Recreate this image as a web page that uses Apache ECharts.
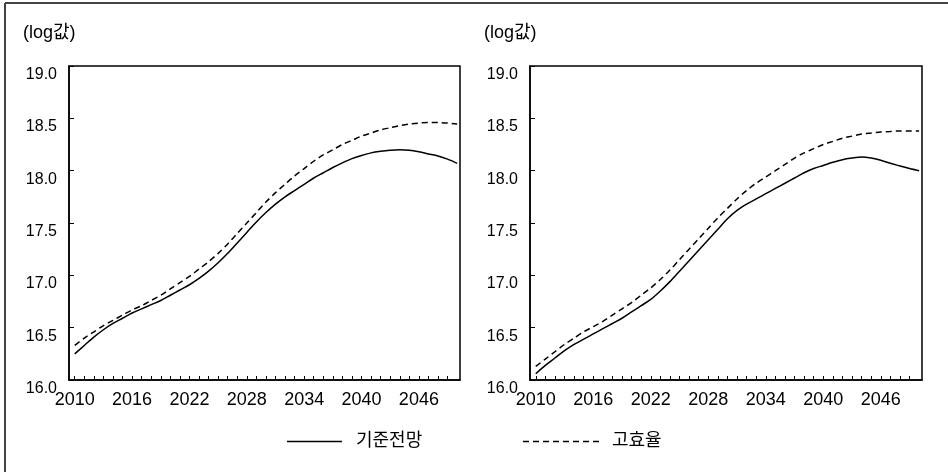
<!DOCTYPE html>
<html>
<head>
<meta charset="utf-8">
<script src="https://cdn.jsdelivr.net/npm/echarts@6/dist/echarts.min.js"></script>
<style>
html,body{margin:0;padding:0;background:#fff;}
#chart{width:948px;height:472px;}
</style>
</head>
<body>
<div id="chart"></div>
<script>
const years = [];
for (let y = 2010; y <= 2050; y++) years.push(y);
const xLabelYears = [2010, 2016, 2022, 2028, 2034, 2040, 2046];
const yTicks = [16.0, 16.5, 17.0, 17.5, 18.0, 18.5, 19.0];
const unitLabel = '(log값)';
const seriesNames = ['기준전망', '고효율'];

const leftBase = [16.25,16.33,16.41,16.48,16.54,16.59,16.64,16.68,16.72,16.76,
  16.81,16.86,16.91,16.97,17.04,17.12,17.21,17.31,17.41,17.51,
  17.60,17.68,17.75,17.81,17.87,17.93,17.98,18.03,18.075,18.115,
  18.145,18.17,18.185,18.195,18.20,18.195,18.18,18.16,18.14,18.11,18.07];
const leftHigh = [16.33,16.40,16.46,16.52,16.57,16.62,16.67,16.71,16.76,16.81,
  16.87,16.93,16.99,17.06,17.13,17.21,17.30,17.40,17.50,17.60,
  17.70,17.79,17.87,17.95,18.02,18.09,18.15,18.20,18.25,18.29,
  18.33,18.36,18.39,18.41,18.43,18.445,18.455,18.46,18.46,18.455,18.445];
const rightBase = [16.06,16.14,16.21,16.28,16.34,16.39,16.44,16.49,16.54,16.59,
  16.65,16.71,16.77,16.85,16.94,17.04,17.14,17.24,17.34,17.44,
  17.54,17.62,17.68,17.73,17.78,17.83,17.88,17.93,17.98,18.02,
  18.05,18.08,18.105,18.12,18.13,18.12,18.10,18.07,18.045,18.02,18.00];
const rightHigh = [16.13,16.20,16.27,16.34,16.40,16.46,16.51,16.56,16.62,16.68,
  16.74,16.81,16.88,16.96,17.05,17.15,17.25,17.35,17.45,17.55,
  17.64,17.73,17.81,17.88,17.94,18.00,18.06,18.12,18.17,18.21,
  18.25,18.28,18.31,18.33,18.35,18.36,18.37,18.375,18.38,18.38,18.38];

const FONT = "'Liberation Sans', Arial, 'Noto Sans CJK KR', sans-serif";
const KFONT = "'Noto Sans CJK KR', sans-serif";
const tickYears = [];
for (let y = 2010; y <= 2049; y++) tickYears.push(y);

function pairs(vals) { return years.map((y, i) => [y, vals[i]]); }

function xAxis(gi) {
  return {
    type: 'value', gridIndex: gi, min: 2009.4, max: 2050.3,
    axisLine: { show: true, lineStyle: { color: '#000', width: 1.5 } },
    splitLine: { show: false },
    axisTick: { show: true, inside: true, length: 4, customValues: tickYears, lineStyle: { color: '#000', width: 1 } },
    axisLabel: { show: true, customValues: xLabelYears, margin: 11, fontSize: 18, fontFamily: FONT, color: '#000', formatter: v => String(v) }
  };
}
function yAxis(gi) {
  return {
    type: 'value', gridIndex: gi, min: 16, max: 19, interval: 0.5,
    axisLine: { show: true, lineStyle: { color: '#000', width: 1.5 } },
    splitLine: { show: false },
    axisTick: { show: true, inside: true, length: 5, lineStyle: { color: '#000', width: 1 } },
    axisLabel: { show: true, customValues: yTicks, margin: 12, fontSize: 16, fontFamily: FONT, color: '#000', verticalAlign: 'top', lineHeight: 17, formatter: v => v.toFixed(1) }
  };
}
function line(name, gi, vals, dashed) {
  return {
    name: name, type: 'line', xAxisIndex: gi, yAxisIndex: gi, data: pairs(vals),
    showSymbol: false, symbol: 'none', smooth: 0.3,
    lineStyle: { color: '#000', width: 1.5, type: dashed ? [6, 4] : 'solid' },
    silent: true, animation: false
  };
}

const chart = echarts.init(document.getElementById('chart'), null, { renderer: 'canvas' });
chart.setOption({
  animation: false,
  backgroundColor: '#fff',
  grid: [
    { left: 69, top: 66, width: 391, height: 314, show: true, borderColor: '#000', borderWidth: 1.5, backgroundColor: 'transparent' },
    { left: 530, top: 66, width: 392, height: 314, show: true, borderColor: '#000', borderWidth: 1.5, backgroundColor: 'transparent' }
  ],
  xAxis: [xAxis(0), xAxis(1)],
  yAxis: [yAxis(0), yAxis(1)],
  series: [
    line(seriesNames[0], 0, leftBase, false),
    line(seriesNames[1], 0, leftHigh, true),
    line(seriesNames[0], 1, rightBase, false),
    line(seriesNames[1], 1, rightHigh, true)
  ],
  graphic: [
    { type: 'line', shape: { x1: 5, y1: 3, x2: 948, y2: 3 }, style: { stroke: '#444', lineWidth: 2 } },
    { type: 'line', shape: { x1: 5, y1: 3, x2: 5, y2: 472 }, style: { stroke: '#444', lineWidth: 2 } },
    { type: 'text', left: 23, top: 24, style: { text: unitLabel, font: "18px " + FONT, fill: '#000' } },
    { type: 'text', left: 484, top: 24, style: { text: unitLabel, font: "18px " + FONT, fill: '#000' } },
    { type: 'line', shape: { x1: 287, y1: 441.5, x2: 342, y2: 441.5 }, style: { stroke: '#000', lineWidth: 1.5 } },
    { type: 'text', left: 356, top: 430, style: { text: seriesNames[0], font: "18px " + KFONT, fill: '#000' } },
    { type: 'line', shape: { x1: 523, y1: 441.5, x2: 600, y2: 441.5 }, style: { stroke: '#000', lineWidth: 1.5, lineDash: [6, 4] } },
    { type: 'text', left: 612, top: 430, style: { text: seriesNames[1], font: "18px " + KFONT, fill: '#000' } }
  ]
});
</script>
</body>
</html>
